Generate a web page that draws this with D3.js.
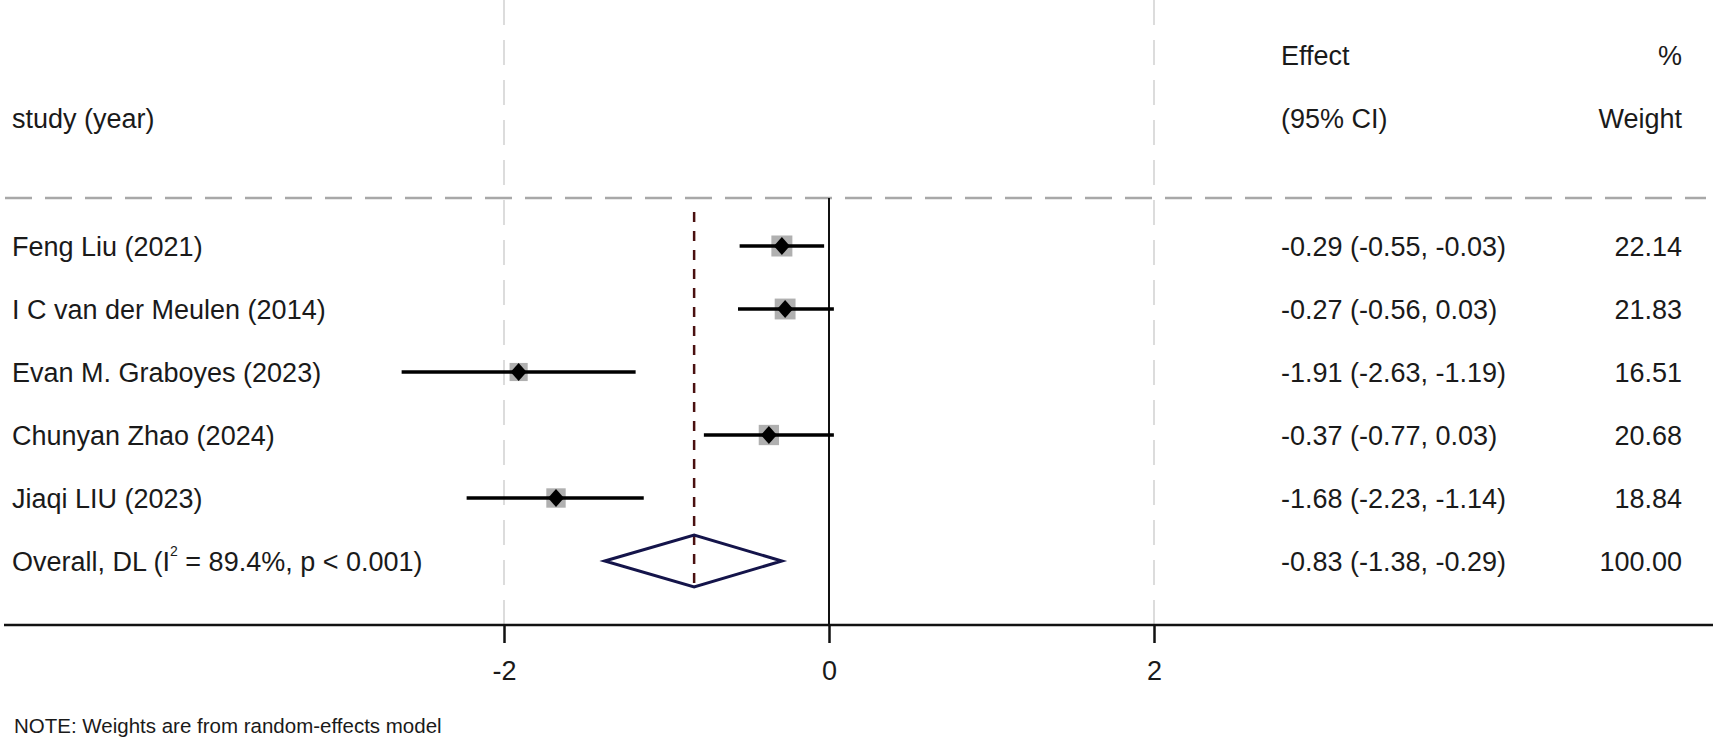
<!DOCTYPE html>
<html>
<head>
<meta charset="utf-8">
<script src="https://cdn.jsdelivr.net/npm/d3@7"></script>
<style>
  html, body { margin: 0; padding: 0; background: #fff; }
  svg { display: block; }
  text { font-family: "Liberation Sans", Arial, sans-serif; fill: #1a1a1a; }
</style>
</head>
<body>
<svg id="chart" width="1713" height="742"></svg>
<script>
// ---- data ----
const studies = ["Feng Liu (2021)", "I C van der Meulen (2014)", "Evan M. Graboyes (2023)", "Chunyan Zhao (2024)", "Jiaqi LIU (2023)"];
const effects = [-0.29, -0.27, -1.91, -0.37, -1.68];
const lower   = [-0.55, -0.56, -2.63, -0.77, -2.23];
const upper   = [-0.03,  0.03, -1.19,  0.03, -1.14];
const weights = [22.14, 21.83, 16.51, 20.68, 18.84];
const overallEffect = -0.83;
const overallLower = -1.38;
const overallUpper = -0.29;
const overallWeight = 100.00;
const overallI2 = "89.4%";
const overallP = "p < 0.001";
const xTicks = [-2, 0, 2];
const gridTicks = [-2, 2];
const noteText = "NOTE: Weights are from random-effects model";

// ---- layout ----
const W = 1713, H = 742;
const svg = d3.select("#chart");
const x = d3.scaleLinear().domain([-2, 2]).range([504, 1154]);
const rowY = d3.scaleLinear().domain([0, 1]).range([246, 309]); // row index -> y
const axisY = 625, headerLineY = 198;
const fs = 27;
const colEffectX = 1281, colWeightX = 1682;
const loc = d3.formatLocale({decimal: ".", thousands: ",", grouping: [3], currency: ["", ""], minus: "-"});
const fmt = loc.format(".2f");
const fmtInt = loc.format("d");

// vertical gray dashed gridlines
svg.selectAll("line.grid").data(gridTicks).enter().append("line")
  .attr("x1", d => x(d)).attr("x2", d => x(d))
  .attr("y1", 0).attr("y2", axisY)
  .attr("stroke", "#dcdcdc").attr("stroke-width", 2)
  .attr("stroke-dasharray", "25,15");

// header dashed line
svg.append("line")
  .attr("x1", 5).attr("x2", 1706).attr("y1", headerLineY).attr("y2", headerLineY)
  .attr("stroke", "#a8a8a8").attr("stroke-width", 2.5)
  .attr("stroke-dasharray", "27,13");

// null line at 0
svg.append("line")
  .attr("x1", x(0)).attr("x2", x(0)).attr("y1", headerLineY).attr("y2", axisY)
  .attr("stroke", "#111").attr("stroke-width", 2);

// overall dashed line
const nRows = studies.length;
svg.append("line")
  .attr("x1", x(overallEffect)).attr("x2", x(overallEffect))
  .attr("y1", 212).attr("y2", rowY(nRows) + 31)
  .attr("stroke", "#4a1010").attr("stroke-width", 2.5)
  .attr("stroke-dasharray", "10,9");

// x axis
const axisG = svg.append("g").attr("transform", `translate(0,${axisY})`);
axisG.append("line").attr("x1", 4).attr("x2", W).attr("y1", 0).attr("y2", 0)
  .attr("stroke", "#111").attr("stroke-width", 2.5);
const xAxis = d3.axisBottom(x).tickValues(xTicks).tickSize(18).tickPadding(18).tickFormat(fmtInt);
axisG.call(xAxis);
axisG.select(".domain").remove();
axisG.selectAll(".tick line").attr("stroke", "#111").attr("stroke-width", 2.5);
axisG.selectAll(".tick text").style("font-family", '"Liberation Sans", Arial, sans-serif')
  .attr("font-size", fs).attr("fill", "#1a1a1a");

// study rows
const rows = svg.selectAll("g.row").data(studies).enter().append("g").attr("class", "row");
const sq = d3.scaleSqrt().domain([0, 22.14]).range([0, 21]);

rows.append("rect")
  .attr("x", (d, i) => x(effects[i]) - sq(weights[i]) / 2)
  .attr("y", (d, i) => rowY(i) - sq(weights[i]) / 2)
  .attr("width", (d, i) => sq(weights[i]))
  .attr("height", (d, i) => sq(weights[i]))
  .attr("fill", "#b0b0b0");

rows.append("line")
  .attr("x1", (d, i) => x(lower[i])).attr("x2", (d, i) => x(upper[i]))
  .attr("y1", (d, i) => rowY(i)).attr("y2", (d, i) => rowY(i))
  .attr("stroke", "#000").attr("stroke-width", 3.5);

rows.append("path")
  .attr("d", (d, i) => {
    const cx = x(effects[i]), cy = rowY(i);
    return `M${cx},${cy - 9} L${cx + 8},${cy} L${cx},${cy + 9} L${cx - 8},${cy} Z`;
  })
  .attr("fill", "#000");

rows.append("text")
  .attr("x", 12).attr("y", (d, i) => rowY(i) + 10)
  .attr("font-size", fs).text(d => d);

rows.append("text")
  .attr("x", colEffectX).attr("y", (d, i) => rowY(i) + 10)
  .attr("font-size", fs)
  .text((d, i) => `${fmt(effects[i])} (${fmt(lower[i])}, ${fmt(upper[i])})`);

rows.append("text")
  .attr("x", colWeightX).attr("y", (d, i) => rowY(i) + 10)
  .attr("text-anchor", "end").attr("font-size", fs)
  .text((d, i) => fmt(weights[i]));

// overall row
const oy = rowY(nRows);
const dh = 26;
svg.append("path")
  .attr("d", `M${x(overallLower)},${oy} L${x(overallEffect)},${oy - dh} L${x(overallUpper)},${oy} L${x(overallEffect)},${oy + dh} Z`)
  .attr("fill", "none").attr("stroke", "#14144a").attr("stroke-width", 3);

const ot = svg.append("text").attr("x", 12).attr("y", oy + 10).attr("font-size", fs);
ot.append("tspan").text("Overall, DL (I");
ot.append("tspan").attr("font-size", 14).attr("dy", -15).text("2");
ot.append("tspan").attr("dy", 15).text(` = ${overallI2}, ${overallP})`);

svg.append("text").attr("x", colEffectX).attr("y", oy + 10).attr("font-size", fs)
  .text(`${fmt(overallEffect)} (${fmt(overallLower)}, ${fmt(overallUpper)})`);
svg.append("text").attr("x", colWeightX).attr("y", oy + 10).attr("text-anchor", "end").attr("font-size", fs)
  .text(fmt(overallWeight));

// headers
svg.append("text").attr("x", colEffectX).attr("y", 65).attr("font-size", fs).text("Effect");
svg.append("text").attr("x", colWeightX).attr("y", 65).attr("text-anchor", "end").attr("font-size", fs).text("%");
svg.append("text").attr("x", 12).attr("y", 128).attr("font-size", fs).text("study (year)");
svg.append("text").attr("x", colEffectX).attr("y", 128).attr("font-size", fs).text("(95% CI)");
svg.append("text").attr("x", colWeightX).attr("y", 128).attr("text-anchor", "end").attr("font-size", fs).text("Weight");

// note
svg.append("text").attr("x", 14).attr("y", 733).attr("font-size", 20.5).attr("fill", "#333").text(noteText);
</script>
</body>
</html>
